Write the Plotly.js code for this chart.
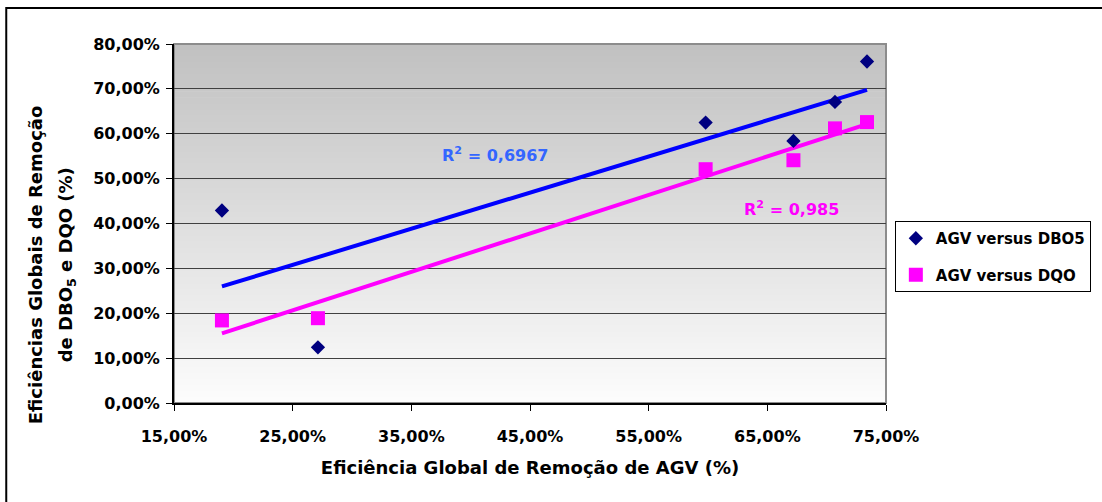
<!DOCTYPE html>
<html>
<head>
<meta charset="utf-8">
<script src="https://cdn.plot.ly/plotly-3.0.1.min.js"></script>
<style>
  html, body { margin: 0; padding: 0; background: #ffffff; }
  #chart { width: 1102px; height: 502px; }
</style>
</head>
<body>
<div id="chart"></div>
<script>
// ---- Data (percent values) ----
const agvX = [19.04, 27.13, 59.8, 67.2, 70.7, 73.4];
const dbo5Y = [42.9, 12.4, 62.5, 58.4, 67.1, 76.1];
const dqoY = [18.4, 18.9, 52.1, 54.1, 61.2, 62.6];

const seriesNames = ['AGV versus DBO5', 'AGV versus DQO'];
const r2Labels = ['R<sup>2</sup> = 0,6967', 'R<sup>2</sup> = 0,985'];

const xTickVals = [15, 25, 35, 45, 55, 65, 75];
const xTickText = ['15,00%', '25,00%', '35,00%', '45,00%', '55,00%', '65,00%', '75,00%'];
const yTickVals = [0, 10, 20, 30, 40, 50, 60, 70, 80];
const yTickText = ['0,00%', '10,00%', '20,00%', '30,00%', '40,00%', '50,00%', '60,00%', '70,00%', '80,00%'];

const xTitle = 'Eficiência Global de Remoção de AGV (%)';
const yTitleLine1 = 'Eficiências Globais de Remoção';
const yTitleLine2 = 'de DBO<sub>5</sub> e DQO (%)';

// ---- Linear trend (least squares) computed from the data ----
function linFit(xs, ys) {
  const n = xs.length;
  const mx = xs.reduce((a, b) => a + b, 0) / n;
  const my = ys.reduce((a, b) => a + b, 0) / n;
  let sxy = 0, sxx = 0;
  for (let i = 0; i < n; i++) { sxy += (xs[i] - mx) * (ys[i] - my); sxx += (xs[i] - mx) * (xs[i] - mx); }
  const m = sxy / sxx;
  const b = my - m * mx;
  const x0 = Math.min(...xs), x1 = Math.max(...xs);
  return { x: [x0, x1], y: [m * x0 + b, m * x1 + b] };
}
const fitDbo = linFit(agvX, dbo5Y);
const fitDqo = linFit(agvX, dqoY);

const FONT = 'DejaVu Sans, Liberation Sans, Arial, sans-serif';

const traces = [
  { x: fitDbo.x, y: fitDbo.y, mode: 'lines', line: { color: '#0000ff', width: 4 }, showlegend: false, hoverinfo: 'skip' },
  { x: fitDqo.x, y: fitDqo.y, mode: 'lines', line: { color: '#ff00ff', width: 4 }, showlegend: false, hoverinfo: 'skip' },
  { x: agvX, y: dbo5Y, mode: 'markers', name: seriesNames[0], legendgroup: 'a',
    marker: { symbol: 'diamond', size: 11, color: '#000080' } },
  { x: agvX, y: dqoY, mode: 'markers', name: seriesNames[1], legendgroup: 'b',
    marker: { symbol: 'square', size: 14, color: '#ff00ff' } }
];

// gradient background bands (style only)
const shapes = [];
const N = 60;
for (let i = 0; i < N; i++) {
  const v = Math.round(252 - (252 - 192) * (i + 0.5) / N);
  shapes.push({ type: 'rect', xref: 'paper', yref: 'paper', x0: 0, x1: 1, y0: i / N, y1: (i + 1) / N + 0.002,
    fillcolor: `rgb(${v},${v},${v})`, line: { width: 0 }, layer: 'below' });
}
// plot area frame (gray top/right)
shapes.push({ type: 'rect', xref: 'paper', yref: 'paper', x0: 0, x1: 1, y0: 0, y1: 1,
  line: { color: '#8c8c8c', width: 2 }, layer: 'below' });
// outer chart border
shapes.push({ type: 'rect', xref: 'paper', yref: 'paper', x0: -0.2356, x1: 1.5, y0: -0.6, y1: 1.1003,
  line: { color: '#000000', width: 2 }, layer: 'below' });

const layout = {
  width: 1102, height: 502,
  margin: { l: 174, r: 215, t: 44, b: 99, pad: 0 },
  paper_bgcolor: '#ffffff',
  plot_bgcolor: 'rgba(0,0,0,0)',
  font: { family: FONT, size: 16, color: '#000000', weight: 'bold' },
  showlegend: true,
  xaxis: {
    range: [15, 75], tickvals: xTickVals, ticktext: xTickText,
    ticks: 'outside', ticklen: 6, tickwidth: 1, tickcolor: '#000',
    ticklabelstandoff: 12,
    showgrid: false, zeroline: false,
    showline: true, linecolor: '#000000', linewidth: 2,
    tickfont: { family: FONT, size: 16, color: '#000', weight: 'bold' },
    title: { text: xTitle, font: { family: FONT, size: 18, color: '#000', weight: 'bold' }, standoff: 16 }
  },
  yaxis: {
    range: [0, 80], tickvals: yTickVals, ticktext: yTickText,
    ticks: 'outside', ticklen: 6, tickwidth: 1, tickcolor: '#000',
    ticklabelstandoff: 3,
    showgrid: true, gridcolor: '#404040', gridwidth: 1, zeroline: false,
    showline: true, linecolor: '#000000', linewidth: 2,
    tickfont: { family: FONT, size: 16, color: '#000', weight: 'bold' }
  },
  legend: {
    x: 1.011, xanchor: 'left', y: 0.507, yanchor: 'top',
    bgcolor: '#ffffff', bordercolor: '#000000', borderwidth: 1,
    font: { family: FONT, size: 15, color: '#000', weight: 'bold' },
    traceorder: 'grouped', tracegroupgap: 14
  },
  shapes: shapes,
  annotations: [
    { text: r2Labels[0], x: 42.06, y: 55.4, xref: 'x', yref: 'y', showarrow: false,
      font: { family: FONT, size: 16, color: '#3366ff', weight: 'bold' } },
    { text: r2Labels[1], x: 67.0, y: 43.35, xref: 'x', yref: 'y', showarrow: false,
      font: { family: FONT, size: 16, color: '#ff00ff', weight: 'bold' } },
    { text: yTitleLine1, x: -0.195, y: 0.384, xref: 'paper', yref: 'paper', xanchor: 'center', yanchor: 'middle',
      showarrow: false, textangle: -90,
      font: { family: FONT, size: 18, color: '#000', weight: 'bold' } },
    { text: yTitleLine2, x: -0.150, y: 0.384, xref: 'paper', yref: 'paper', xanchor: 'center', yanchor: 'middle',
      showarrow: false, textangle: -90,
      font: { family: FONT, size: 18, color: '#000', weight: 'bold' } }
  ]
};

Plotly.newPlot('chart', traces, layout, { displayModeBar: false, staticPlot: true });
</script>
</body>
</html>
